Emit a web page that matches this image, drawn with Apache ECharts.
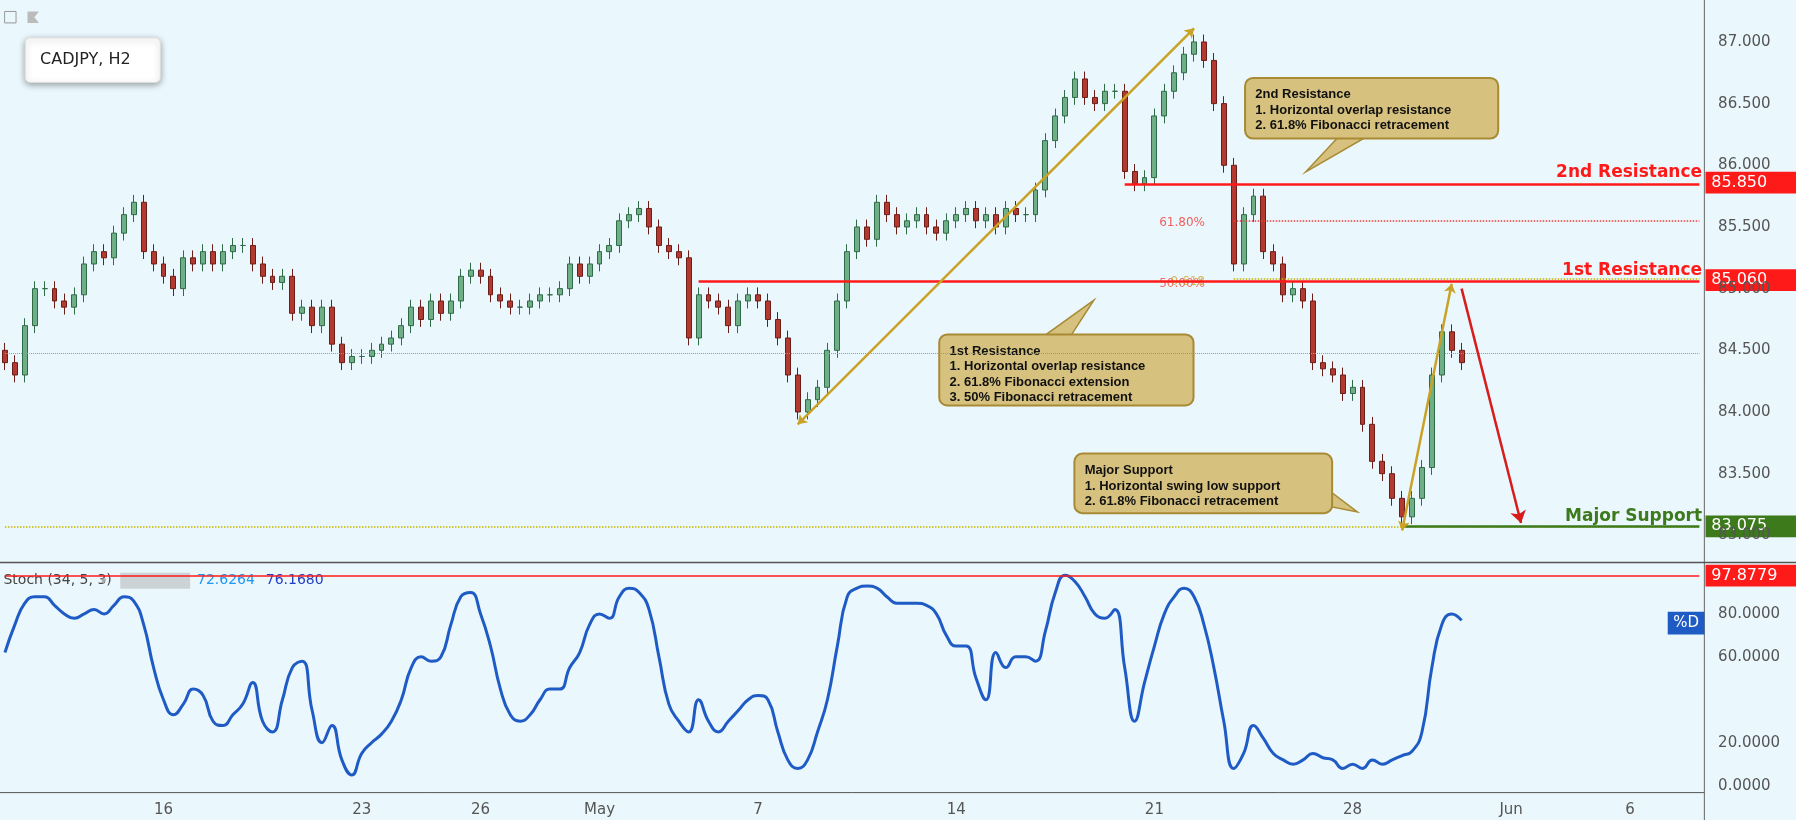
<!DOCTYPE html>
<html>
<head>
<meta charset="utf-8">
<script src="https://cdn.jsdelivr.net/npm/echarts@6/dist/echarts.min.js"></script>
<style>
	html, body { margin: 0; padding: 0; background: #eaf7fc; }
	#chart { width: 1796px; height: 820px; }
</style>
</head>
<body>
<div id="chart"></div>
<script>
/* 收盤價，每日 4 根 */
const closes = [
	84.4, 84.3, 84.7, 85.0, 85.0, 84.9, 84.85, 84.95, 85.2, 85.3, 85.25, 85.45,
	85.6, 85.7, 85.3, 85.2, 85.1, 85.0, 85.25, 85.2, 85.3, 85.2, 85.3, 85.35,
	85.35, 85.2, 85.1, 85.05, 85.1, 84.8, 84.85, 84.7, 84.85, 84.55, 84.4, 84.45,
	84.45, 84.5, 84.55, 84.6, 84.7, 84.85, 84.75, 84.9, 84.8, 84.9, 85.1, 85.15,
	85.1, 84.95, 84.9, 84.85, 84.85, 84.9, 84.95, 84.95, 85.0, 85.2, 85.1, 85.2,
	85.3, 85.35, 85.55, 85.6, 85.65, 85.5, 85.35, 85.3, 85.25, 84.6, 84.95, 84.9,
	84.85, 84.7, 84.9, 84.95, 84.9, 84.75, 84.6, 84.3, 84.0, 84.1, 84.2, 84.5,
	84.9, 85.3, 85.5, 85.4, 85.7, 85.6, 85.5, 85.55, 85.6, 85.5, 85.45, 85.55,
	85.6, 85.65, 85.55, 85.6, 85.5, 85.65, 85.6, 85.6, 85.8, 86.2, 86.4, 86.55,
	86.7, 86.55, 86.5, 86.6, 86.6, 85.95, 85.85, 85.9, 86.4, 86.6, 86.75, 86.9,
	87.0, 86.85, 86.5, 86.0, 85.2, 85.6, 85.75, 85.3, 85.2, 84.95, 85.0, 84.9,
	84.4, 84.35, 84.3, 84.15, 84.2, 83.9, 83.6, 83.5, 83.3, 83.15, 83.3, 83.55,
	84.3, 84.65, 84.5, 84.4
];
const firstOpen = 84.5;
const wick = 0.06;

/* Stoch %D */
const stochD = [
	62, 75, 85, 88, 88, 84, 80, 78, 80, 82, 80, 84,
	88, 86, 75, 55, 40, 33, 38, 45, 42, 30, 28, 33,
	38, 48, 30, 25, 40, 55, 58, 35, 20, 28, 12, 5,
	15, 20, 24, 30, 40, 55, 60, 58, 60, 75, 88, 90,
	80, 65, 45, 33, 30, 33, 40, 45, 45, 55, 62, 75,
	80, 78, 88, 92, 90, 82, 60, 38, 30, 25, 40, 30,
	25, 30, 35, 40, 42, 40, 25, 12, 8, 12, 25, 40,
	65, 88, 92, 93, 92, 88, 85, 85, 85, 84, 80, 70,
	65, 65, 50, 40, 62, 55, 60, 60, 58, 72, 90, 98,
	95, 88, 80, 78, 82, 55, 30, 48, 65, 80, 88, 92,
	88, 75, 55, 30, 8, 15, 28, 22, 15, 12, 10, 12,
	15, 13, 12, 8, 10, 8, 12, 10, 12, 14, 16, 25,
	55, 75, 80, 77
];

/* 交易日（含未來空白日） */
const tradingDays = [
	"Apr 10", "Apr 11", "Apr 12", "Apr 13", "Apr 16", "Apr 17", "Apr 18", "Apr 19", "Apr 20",
	"Apr 23", "Apr 24", "Apr 25", "Apr 26", "Apr 27", "Apr 30", "May 1", "May 2", "May 3", "May 4",
	"May 7", "May 8", "May 9", "May 10", "May 11", "May 14", "May 15", "May 16", "May 17", "May 18",
	"May 21", "May 22", "May 23", "May 24", "May 25", "May 28", "May 29", "May 30", "May 31",
	"Jun 1", "Jun 4", "Jun 5", "Jun 6", "Jun 7"
];
const barsPerDay = 4;
const tickDays = ["Apr 16", "Apr 23", "Apr 26", "May 1", "May 7", "May 14", "May 21", "May 28", "Jun 1", "Jun 6"];
const tickLabels = ["16", "23", "26", "May", "7", "14", "21", "28", "Jun", "6"];
const priceTicks = [83.0, 83.5, 84.0, 84.5, 85.0, 85.5, 86.0, 86.5, 87.0];
const stochTicks = [0, 20, 60, 80];

const S = 1796 / 1568;
const px = (v) => v * S;

const categories = [];
tradingDays.forEach((d) => {
	for (let i = 0; i < barsPerDay; i++) categories.push(i === 0 ? d : d + " #" + i);
});
const tickMap = {};
tickDays.forEach((d, i) => (tickMap[d] = tickLabels[i]));

const candles = closes.map((c, i) => {
	const o = i ? closes[i - 1] : firstOpen;
	return [o, c, Math.min(o, c) - wick, Math.max(o, c) + wick];
});

const last = categories.length - 1;
const gold = "#c9a227";

/* 說明框 */
function callout(x, y, w, h, tail, lines) {
	return {
		type: "group",
		children: [
			{
				type: "polygon",
				shape: { points: tail.map((p) => [px(p[0]), px(p[1])]) },
				style: { fill: "#d6c27e", stroke: "#a88a35", lineWidth: 1.5 },
			},
			{
				type: "rect",
				shape: { x: px(x), y: px(y), width: px(w), height: px(h), r: 8 },
				style: { fill: "#d6c27e", stroke: "#a88a35", lineWidth: 2 },
			},
			{
				type: "text",
				x: px(x + 9),
				y: px(y + 8),
				style: { text: lines.join("\n"), font: "bold 13px 'Liberation Sans'", fill: "#111", lineHeight: 15.5 },
			},
		],
	};
}

function tag(y, text, color, w) {
	return {
		type: "group",
		children: [
			{ type: "rect", shape: { x: px(1489), y: px(y), width: px(w || 79), height: px(19) }, style: { fill: color } },
			{ type: "text", x: px(1494), y: px(y + 9.5), style: { text: text, font: "16px 'DejaVu Sans'", fill: "#fff", verticalAlign: "middle" } },
		],
	};
}

function label(y, text, color) {
	return {
		type: "text", x: px(1486), y: px(y), style: { text: text, font: "bold 17px 'DejaVu Sans'", fill: color, align: "right", verticalAlign: "middle" },
	};
}

const chart = echarts.init(document.getElementById("chart"));
chart.setOption({
	animation: false,
	backgroundColor: "#eaf7fc",
	grid: [
		{ left: 0, right: px(80), top: 0, height: px(490) },
		{ left: 0, right: px(80), top: px(498.5), bottom: px(30) },
	],
	xAxis: [
		{ type: "category", gridIndex: 0, data: categories, show: false, boundaryGap: true },
		{
			type: "category", gridIndex: 1, data: categories, boundaryGap: true, position: "bottom", offset: px(8),
			axisLine: { show: false }, axisTick: { show: false },
			axisLabel: {
				interval: (i, v) => tickMap[v] !== undefined,
				formatter: (v) => tickMap[v] || "",
				color: "#555", fontSize: 15, fontFamily: "DejaVu Sans",
			},
		},
	],
	yAxis: [
		{
			type: "value", gridIndex: 0, position: "right", min: 82.79, max: 87.34,
			splitLine: { show: false }, axisLine: { show: false }, axisTick: { show: false },
			axisLabel: {
				customValues: priceTicks,
				color: "#555", fontSize: 15, fontFamily: "DejaVu Sans", margin: px(12),
				formatter: (v) => v.toFixed(3),
			},
		},
		{
			type: "value", gridIndex: 1, position: "right", min: 0, max: 100,
			splitLine: { show: false }, axisLine: { show: false }, axisTick: { show: false },
			axisLabel: {
				customValues: stochTicks,
				color: "#555", fontSize: 15, fontFamily: "DejaVu Sans", margin: px(12),
				formatter: (v) => v.toFixed(4),
			},
		},
	],
	series: [
		{
			type: "candlestick",
			xAxisIndex: 0,
			yAxisIndex: 0,
			data: candles,
			barWidth: "55%",
			itemStyle: { color: "#6fae86", color0: "#b23a30", borderColor: "#2e6b47", borderColor0: "#6d1d17", borderWidth: 1 },
			markLine: {
				silent: true,
				symbol: "none",
				label: { show: false },
				data: [
					[{ coord: [0, 84.48], lineStyle: { color: "#7aa7a0", type: "dotted", width: 1 } }, { coord: [last, 84.48] }],
					[{ coord: [0, 83.07], lineStyle: { color: "#c8b400", type: "dotted", width: 1.5 } }, { coord: [last, 83.07] }],
					[{ coord: [124, 85.55], lineStyle: { color: "#f03c3c", type: "dotted", width: 1.5 } }, { coord: [last, 85.55] }],
					[{ coord: [124, 85.08], lineStyle: { color: "#c8b400", type: "dotted", width: 1.5 } }, { coord: [last, 85.08] }],
					[{ coord: [113, 85.85], lineStyle: { color: "#ff1a1a", type: "solid", width: 2.5 } }, { coord: [last, 85.85] }],
					[{ coord: [70, 85.06], lineStyle: { color: "#ff1a1a", type: "solid", width: 2.5 } }, { coord: [last, 85.06] }],
					[{ coord: [141, 83.075], lineStyle: { color: "#3d7a1c", type: "solid", width: 2.5 } }, { coord: [last, 83.075] }],
					[
						{ coord: [80, 83.9], symbol: "arrow", symbolSize: 9, lineStyle: { color: gold, width: 2.5, type: "solid" } },
						{ coord: [120, 87.11], symbol: "arrow", symbolSize: 9 },
					],
					[
						{ coord: [141, 83.04], symbol: "arrow", symbolSize: 9, lineStyle: { color: gold, width: 2.5, type: "solid" } },
						{ coord: [146, 85.04], symbol: "arrow", symbolSize: 9 },
					],
					[
						{ coord: [147, 85.0], symbol: "none", lineStyle: { color: "#d81b1b", width: 2.5, type: "solid" } },
						{ coord: [153, 83.1], symbol: "arrow", symbolSize: 12 },
					],
				],
			},
		},
		{
			type: "line",
			xAxisIndex: 1,
			yAxisIndex: 1,
			data: stochD,
			smooth: 0.5,
			showSymbol: false,
			lineStyle: { color: "#1f5bc4", width: 3 },
			markLine: {
				silent: true,
				symbol: "none",
				label: { show: false },
				data: [[{ coord: [0, 97.88], lineStyle: { color: "#ff1a1a", width: 1.5, type: "solid" } }, { coord: [last, 97.88] }]],
			},
		},
	],
	graphic: [
		{ type: "line", shape: { x1: px(1488), y1: 0, x2: px(1488), y2: px(716) }, style: { stroke: "#666", lineWidth: 1 } },
		{ type: "line", shape: { x1: 0, y1: px(491), x2: px(1568), y2: px(491) }, style: { stroke: "#555", lineWidth: 1.5 } },
		{ type: "line", shape: { x1: 0, y1: px(692), x2: px(1488), y2: px(692) }, style: { stroke: "#555", lineWidth: 1 } },
		{
			type: "rect", shape: { x: px(22), y: px(33), width: px(118), height: px(39), r: 5 },
			style: { fill: "#fff", stroke: "#ddd", shadowBlur: 6, shadowColor: "rgba(0,0,0,0.35)", shadowOffsetY: 2 },
		},
		{ type: "text", x: px(35), y: px(52.5), style: { text: "CADJPY, H2", font: "16px 'DejaVu Sans'", fill: "#222", verticalAlign: "middle" } },
		{ type: "rect", shape: { x: px(4), y: px(10), width: px(10), height: px(10) }, style: { fill: "none", stroke: "#999" } },
		{ type: "polygon", shape: { points: [[px(24), px(10)], [px(34), px(10)], [px(30), px(15)], [px(34), px(20)], [px(24), px(20)]] }, style: { fill: "#bbb" } },
		callout(1087, 68, 221, 53, [[1168, 120], [1192, 120], [1140, 150]], [
			"2nd Resistance", "1. Horizontal overlap resistance", "2. 61.8% Fibonacci retracement",
		]),
		callout(820, 292, 222, 62, [[912, 293], [935, 293], [955, 262]], [
			"1st Resistance", "1. Horizontal overlap resistance", "2. 61.8% Fibonacci extension", "3. 50% Fibonacci retracement",
		]),
		callout(938, 396, 225, 52, [[1150, 440], [1160, 428], [1185, 447]], [
			"Major Support", "1. Horizontal swing low support", "2. 61.8% Fibonacci retracement",
		]),
		label(151, "2nd Resistance", "#ff1a1a"),
		label(236, "1st Resistance", "#ff1a1a"),
		label(451, "Major Support", "#3d7a1c"),
		{ type: "text", x: px(1052), y: px(195), style: { text: "61.80%", font: "12px 'DejaVu Sans'", fill: "#f06060", align: "right", verticalAlign: "middle" } },
		{ type: "text", x: px(1052), y: px(248), style: { text: "50.00%", font: "12px 'DejaVu Sans'", fill: "#f07070", align: "right", verticalAlign: "middle" } },
		{ type: "text", x: px(1022), y: px(246), style: { text: "0.618", font: "12px 'DejaVu Sans'", fill: "rgba(200,170,40,0.8)", verticalAlign: "middle" } },
		tag(150, "85.850", "#ff1a1a"),
		tag(235, "85.060", "#ff1a1a"),
		tag(450, "83.075", "#3d7a1c"),
		tag(493, "97.8779", "#ff1a1a"),
		{ type: "rect", shape: { x: px(1456), y: px(534), width: px(32), height: px(20) }, style: { fill: "#1f5bc4" } },
		{ type: "text", x: px(1472), y: px(544), style: { text: "%D", font: "15px 'DejaVu Sans'", fill: "#fff", align: "center", verticalAlign: "middle" } },
		{ type: "text", x: px(3), y: px(507), style: { text: "Stoch (34, 5, 3)", font: "14px 'DejaVu Sans'", fill: "#444", verticalAlign: "middle" } },
		{ type: "text", x: px(88), y: px(507), style: { text: "▾", font: "11px 'DejaVu Sans'", fill: "#aaa", verticalAlign: "middle" } },
		{ type: "rect", shape: { x: px(105), y: px(500), width: px(61), height: px(14) }, style: { fill: "#ccd3d6" } },
		{ type: "text", x: px(172), y: px(507), style: { text: "72.6264", font: "14px 'DejaVu Sans'", fill: "#2196f3", verticalAlign: "middle" } },
		{ type: "text", x: px(232), y: px(507), style: { text: "76.1680", font: "14px 'DejaVu Sans'", fill: "#1f3fc4", verticalAlign: "middle" } },
	],
});
</script>
</body>
</html>
